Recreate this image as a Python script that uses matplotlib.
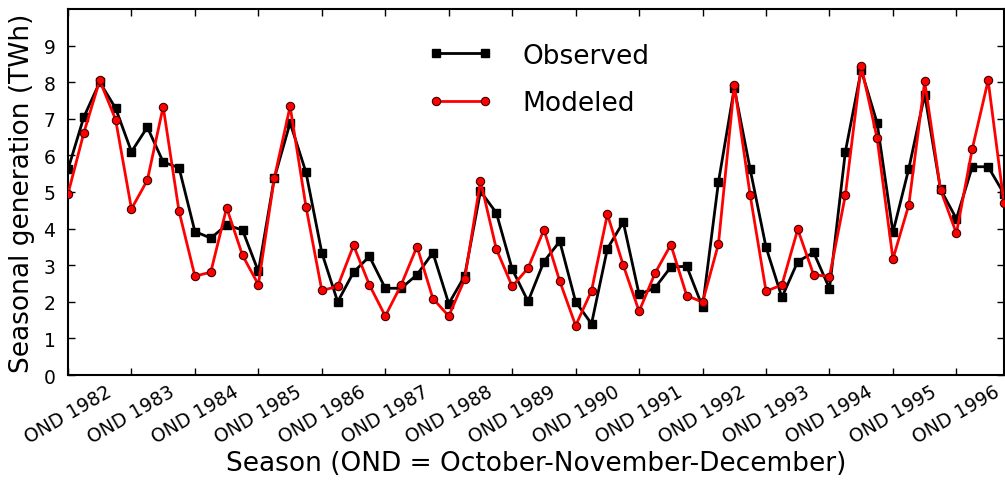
import matplotlib
matplotlib.use("Agg")
import matplotlib.pyplot as plt
import numpy as np

years    = list(range(1982, 1997))
# seasonal generation, one value per season starting OND 1982 (TWh)
observed = [5.62, 7.05, 8.00, 7.29, 6.10, 6.77, 5.82, 5.66, 3.92, 3.74,
            4.10, 3.96, 2.83, 5.37, 6.89, 5.54, 3.34, 2.00, 2.81, 3.24,
            2.37, 2.37, 2.74, 3.34, 1.95, 2.70, 5.02, 4.43, 2.89, 2.01,
            3.10, 3.65, 2.00, 1.40, 3.45, 4.18, 2.20, 2.38, 2.95, 2.97,
            1.86, 5.27, 7.84, 5.62, 3.49, 2.12, 3.10, 3.35, 2.36, 6.10,
            8.33, 6.89, 3.90, 5.64, 7.66, 5.07, 4.27, 5.69, 5.69, 4.95]
modeled  = [4.95, 6.62, 8.05, 6.98, 4.54, 5.32, 7.33, 4.47, 2.70, 2.81,
            4.57, 3.27, 2.47, 5.37, 7.34, 4.60, 2.31, 2.42, 3.54, 2.46,
            1.61, 2.46, 3.51, 2.09, 1.61, 2.61, 5.30, 3.44, 2.42, 2.92,
            3.97, 2.56, 1.35, 2.30, 4.39, 3.00, 1.74, 2.78, 3.56, 2.17,
            1.99, 3.58, 7.92, 4.91, 2.29, 2.46, 3.98, 2.74, 2.69, 4.91,
            8.44, 6.47, 3.17, 4.65, 8.02, 5.06, 3.87, 6.18, 8.05, 4.69]
tick_labels = ["OND %d" % y for y in years]

plt.rcParams['font.family'] = 'DejaVu Sans'

fig = plt.figure(figsize=(10.05, 4.85), dpi=100)
ax  = fig.add_axes([68/1005., 1-376/485., 936/1005., 366/485.])

x = np.arange(len(observed))
ax.plot(x, observed, color='k', lw=2, marker='s', ms=6,
        mfc='k', mec='k', label='Observed', zorder=2)
ax.plot(x, modeled, color='r', lw=2, marker='o', ms=6,
        mfc='r', mec='#400000', mew=0.8, label='Modeled', zorder=3)

ax.set_xlim(0, len(observed)-1)
ax.set_ylim(0, 10)
ax.set_yticks(range(0, 10))
ax.set_xticks(np.arange(0, len(observed), 4))
ax.set_xticklabels(tick_labels, rotation=30, ha='center')
ax.tick_params(direction='in', top=True, right=True, length=5, width=1,
               labelsize=13.5)
ax.tick_params(axis='y', pad=9)
ax.tick_params(axis='x', pad=5)
for s in ax.spines.values():
    s.set_linewidth(1.5)

ax.set_ylabel('Seasonal generation (TWh)', fontsize=19, labelpad=6)
ax.set_xlabel('Season (OND = October-November-December)', fontsize=19,
              labelpad=2)

ax.legend(loc='upper left', bbox_to_anchor=(0.359, 0.973), frameon=False,
          numpoints=2, fontsize=19, handlelength=2.45, handletextpad=1.15,
          labelspacing=0.8)

fig.savefig('out.png', dpi=100, facecolor='white')
